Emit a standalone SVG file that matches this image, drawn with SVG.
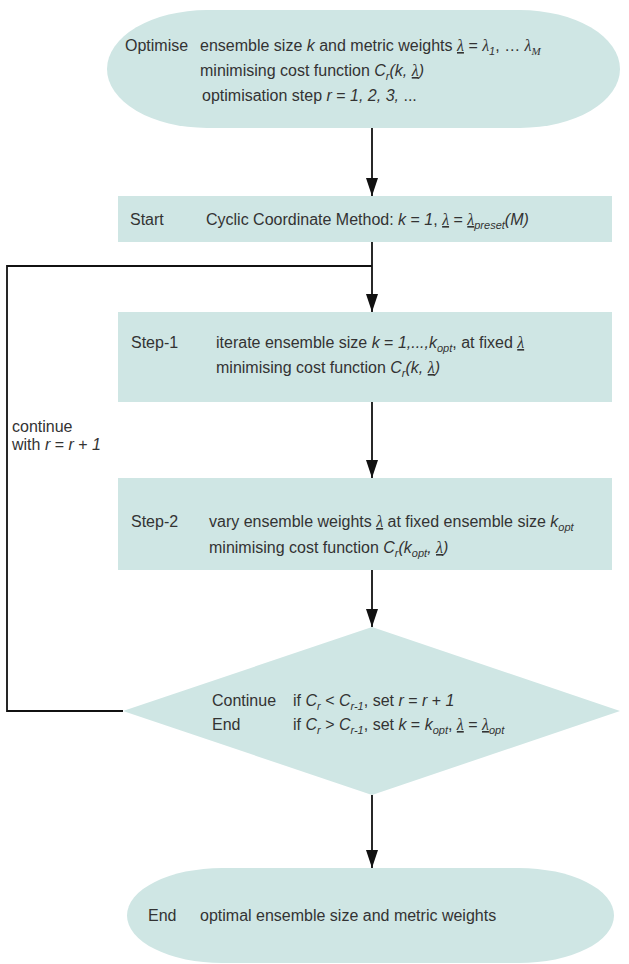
<svg xmlns="http://www.w3.org/2000/svg" width="629" height="964" viewBox="0 0 629 964">
<defs>
<style>
.n{fill:#cfe6e4;stroke:none}
.t{font-family:"Liberation Sans",Arial,sans-serif;font-size:16px;fill:#333}
.i{font-style:italic}
.g{font-family:"Liberation Serif","Times New Roman",serif;font-style:italic}
.s{font-size:11px}
.c{fill:none;stroke:#111;stroke-width:1.8}
</style>
<marker id="ah" viewBox="0 0 18 12" refX="18" refY="6" markerWidth="18" markerHeight="12" markerUnits="userSpaceOnUse" orient="auto">
<path d="M0,0 L18,6 L0,12 z" fill="#111"/>
</marker>
</defs>
<rect width="629" height="964" fill="#fff"/>
<g id="connectors">
<line class="c" x1="372" y1="128" x2="372" y2="196" marker-end="url(#ah)"/>
<line class="c" x1="372" y1="242" x2="372" y2="312" marker-end="url(#ah)"/>
<polyline class="c" points="123,711 7,711 7,266 372,266"/>
<line class="c" x1="372" y1="402" x2="372" y2="478" marker-end="url(#ah)"/>
<line class="c" x1="372" y1="570" x2="372" y2="627" marker-end="url(#ah)"/>
<line class="c" x1="372" y1="795" x2="372" y2="868" marker-end="url(#ah)"/>
</g>
<g id="optimise">
<rect class="n" x="107" y="10" width="513" height="118" rx="100" ry="59"/>
<text class="t" x="125" y="51">Optimise<tspan x="200">ensemble size </tspan><tspan class="i">k</tspan> and metric weights <tspan class="g" text-decoration="underline">λ</tspan> = <tspan class="g">λ</tspan><tspan class="s i" dy="4">1</tspan><tspan dy="-4">, … </tspan><tspan class="g">λ</tspan><tspan class="s g" dy="4">M</tspan></text>
<text class="t" x="200" y="76">minimising cost function <tspan class="i">C</tspan><tspan class="s i" dy="4">r</tspan><tspan class="i" dy="-4">(k, </tspan><tspan class="g" text-decoration="underline">λ</tspan><tspan class="i">)</tspan></text>
<text class="t" x="202" y="101">optimisation step <tspan class="i">r</tspan> = <tspan class="i">1, 2, 3,</tspan> ...</text>
</g>
<g id="start">
<rect class="n" x="118" y="196" width="494" height="46"/>
<text class="t" x="130" y="225">Start<tspan x="206">Cyclic Coordinate Method: </tspan><tspan class="i">k</tspan> = <tspan class="i">1</tspan>, <tspan class="g" text-decoration="underline">λ</tspan> = <tspan class="g" text-decoration="underline">λ</tspan><tspan class="s i" dy="4">preset</tspan><tspan class="i" dy="-4">(M)</tspan></text>
</g>
<g id="step1">
<rect class="n" x="118" y="312" width="494" height="90"/>
<text class="t" x="131" y="348">Step-1<tspan x="216">iterate ensemble size </tspan><tspan class="i">k</tspan> = <tspan class="i">1,...,k</tspan><tspan class="s i" dy="4">opt</tspan><tspan dy="-4">, at fixed </tspan><tspan class="g" text-decoration="underline">λ</tspan></text>
<text class="t" x="216" y="373">minimising cost function <tspan class="i">C</tspan><tspan class="s i" dy="4">r</tspan><tspan class="i" dy="-4">(k, </tspan><tspan class="g" text-decoration="underline">λ</tspan><tspan class="i">)</tspan></text>
</g>
<g id="loop-label">
<text class="t" x="12" y="432">continue</text>
<text class="t" x="12" y="450">with <tspan class="i">r</tspan> = <tspan class="i">r</tspan> + <tspan class="i">1</tspan></text>
</g>
<g id="step2">
<rect class="n" x="118" y="478" width="494" height="92"/>
<text class="t" x="131" y="527">Step-2<tspan x="209">vary ensemble weights </tspan><tspan class="g" text-decoration="underline">λ</tspan> at fixed ensemble size <tspan class="i">k</tspan><tspan class="s i" dy="4">opt</tspan></text>
<text class="t" x="209" y="553">minimising cost function <tspan class="i">C</tspan><tspan class="s i" dy="4">r</tspan><tspan class="i" dy="-4">(k</tspan><tspan class="s i" dy="4">opt</tspan><tspan class="i" dy="-4">, </tspan><tspan class="g" text-decoration="underline">λ</tspan><tspan class="i">)</tspan></text>
</g>
<g id="decision">
<polygon class="n" points="372,627 620,711 372,795 123,711"/>
<text class="t" x="212" y="706">Continue<tspan x="293">if </tspan><tspan class="i">C</tspan><tspan class="s i" dy="4">r</tspan><tspan dy="-4"> &lt; </tspan><tspan class="i">C</tspan><tspan class="s i" dy="4">r-1</tspan><tspan dy="-4">, set </tspan><tspan class="i">r</tspan> = <tspan class="i">r</tspan> + <tspan class="i">1</tspan></text>
<text class="t" x="212" y="730">End<tspan x="293">if </tspan><tspan class="i">C</tspan><tspan class="s i" dy="4">r</tspan><tspan dy="-4"> &gt; </tspan><tspan class="i">C</tspan><tspan class="s i" dy="4">r-1</tspan><tspan dy="-4">, set </tspan><tspan class="i">k</tspan> = <tspan class="i">k</tspan><tspan class="s i" dy="4">opt</tspan><tspan dy="-4">, </tspan><tspan class="g" text-decoration="underline">λ</tspan> = <tspan class="g" text-decoration="underline">λ</tspan><tspan class="s i" dy="4">opt</tspan></text>
</g>
<g id="end">
<rect class="n" x="127" y="868" width="487" height="95" rx="95" ry="47.5"/>
<text class="t" x="148" y="921">End<tspan x="200">optimal ensemble size and metric weights</tspan></text>
</g>
</svg>
